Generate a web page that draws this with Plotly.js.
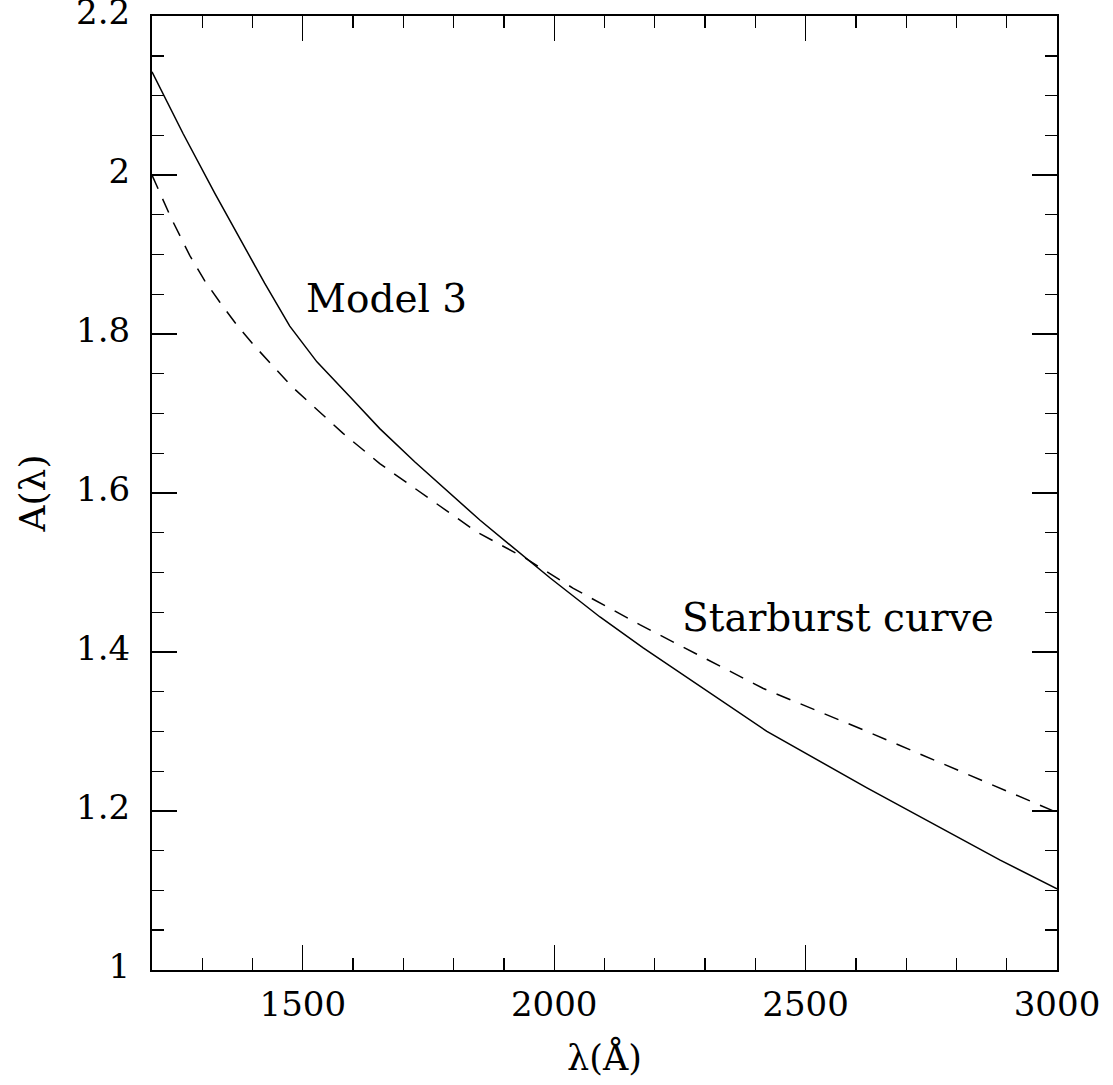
<!DOCTYPE html>
<html>
<head>
<meta charset="utf-8">
<script src="https://cdn.plot.ly/plotly-3.0.1.min.js"></script>
<style>html,body{margin:0;padding:0;background:#fff;}#chart{width:1113px;height:1085px;}</style>
</head>
<body>
<div id="chart"></div>
<script>
// Model 3 extinction curve
const model3Wave = [1200, 1262, 1325, 1424, 1474, 1528, 1597, 1653, 1723, 1852, 1992, 2091, 2177, 2423, 2622, 2887, 3000];
const model3A    = [2.130, 2.052, 1.977, 1.864, 1.810, 1.765, 1.719, 1.681, 1.639, 1.566, 1.493, 1.444, 1.405, 1.300, 1.229, 1.138, 1.102];
// Starburst curve
const starWave = [1200, 1238, 1275, 1305, 1335, 1368, 1404, 1478, 1580, 1653, 1756, 1846, 1945, 2038, 2171, 2416, 2622, 2820, 3000];
const starA    = [2.000, 1.946, 1.899, 1.867, 1.840, 1.812, 1.785, 1.734, 1.675, 1.637, 1.591, 1.551, 1.517, 1.480, 1.434, 1.354, 1.300, 1.247, 1.198];
// Labels
const labelTexts = ["Model 3", "Starburst curve"];
const labelX = [1503, 2250];
const labelY = [1.845, 1.443];

const FONT = "DejaVu Serif, Liberation Serif, serif";

const traces = [
  {x: model3Wave, y: model3A, mode: "lines", line: {color: "#000", width: 1.5}, hoverinfo: "skip"},
  {x: starWave, y: starA, mode: "lines", line: {color: "#000", width: 1.5, dash: "15px,11px"}, hoverinfo: "skip"}
];

const axisCommon = {
  showgrid: false, zeroline: false, showline: true, linecolor: "#000", linewidth: 2,
  mirror: "allticks", ticks: "inside", ticklen: 25, tickwidth: 1.3, tickcolor: "#000",
  ticklabeloverflow: "allow",
  tickfont: {family: FONT, size: 34, color: "#000"}
};

const layout = {
  width: 1113, height: 1085,
  margin: {l: 152, r: 56, t: 16, b: 115},
  paper_bgcolor: "#fff", plot_bgcolor: "#fff",
  showlegend: false,
  xaxis: Object.assign({}, axisCommon, {
    range: [1200, 3000], tickmode: "array", tickvals: [1500, 2000, 2500, 3000],
    ticktext: ["1500", "2000", "2500", "3000"],
    minor: {dtick: 100, tick0: 1200, ticks: "inside", ticklen: 12, tickcolor: "#000", tickwidth: 1.3},
    ticklabelstandoff: 3,
    title: {text: "λ(Å)", font: {family: FONT, size: 35, color: "#000"}, standoff: 23}
  }),
  yaxis: Object.assign({}, axisCommon, {
    range: [0.9998, 2.2002], tickmode: "array", tickvals: [1, 1.2, 1.4, 1.6, 1.8, 2, 2.2],
    ticktext: ["1", "1.2", "1.4", "1.6", "1.8", "2", "2.2"],
    minor: {dtick: 0.05, tick0: 1, ticks: "inside", ticklen: 12, tickcolor: "#000", tickwidth: 1.3},
    ticklabelstandoff: 13,
    ticklabelshift: -4,
    title: {text: "A(λ)", font: {family: FONT, size: 36, color: "#000"}, standoff: 20}
  }),
  annotations: labelTexts.map((t, i) => ({
    text: t, x: labelX[i], y: labelY[i], xref: "x", yref: "y",
    xanchor: "left", yanchor: "middle", showarrow: false,
    font: {family: FONT, size: 39, color: "#000"}
  }))
};

Plotly.newPlot("chart", traces, layout, {staticPlot: true, displayModeBar: false});
</script>
</body>
</html>
